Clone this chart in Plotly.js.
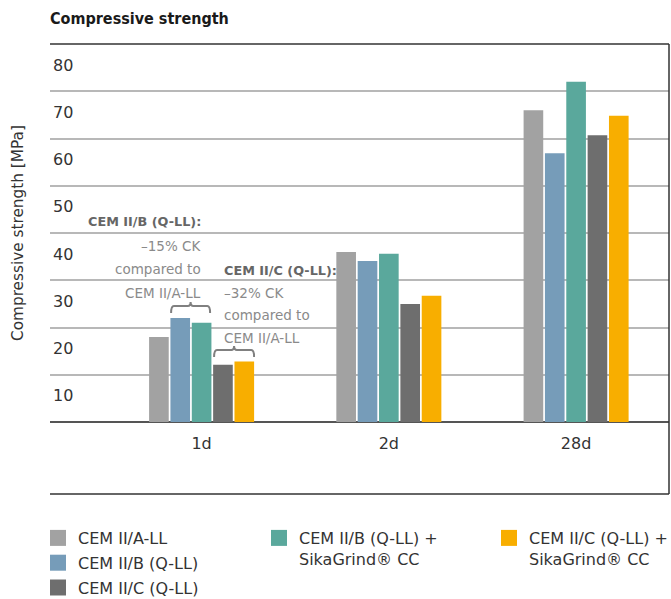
<!DOCTYPE html>
<html><head><meta charset="utf-8">
<script src="https://cdn.plot.ly/plotly-3.0.1.min.js"></script>
<style>body{margin:0;background:#fff}</style>
</head><body><div id="chart" style="width:671px;height:599px"></div>
<script>
// ---- data ----
const ages = ['1d', '2d', '28d'];
const seriesNames = ['CEM II/A-LL', 'CEM II/B (Q-LL)', 'CEM II/B (Q-LL) +<br>SikaGrind® CC', 'CEM II/C (Q-LL)', 'CEM II/C (Q-LL) +<br>SikaGrind® CC'];
const cemA = [18.0, 36.0, 66.0];
const cemB = [22.0, 34.1, 56.9];
const cemBSika = [21.0, 35.6, 72.0];
const cemC = [12.1, 25.0, 60.7];
const cemCSika = [12.8, 26.7, 64.8];
const yTicks = [10, 20, 30, 40, 50, 60, 70, 80];
const yTitle = 'Compressive strength [MPa]';
const noteB = ['CEM II/B (Q-LL):', '–15% CK', 'compared to', 'CEM II/A-LL'];
const noteC = ['CEM II/C (Q-LL):', '–32% CK', 'compared to', 'CEM II/A-LL'];

// ---- styling ----
const colors = ['#a2a2a2', '#769cb9', '#5aa89c', '#6e6e6e', '#f8ae00'];
const legendIds = ['legend', 'legend', 'legend2', 'legend', 'legend3'];
const values = [cemA, cemB, cemBSika, cemC, cemCSika];
const FONT = 'DejaVu Sans, sans-serif';
const W = 671, H = 599, L = 50, R = 669, T = 44, B = 422, FB = 494;
const px2x = p => (p - L) / (R - L);
const py2y = p => (B - p) / (B - T);
const yUnit = (B - T) / 80;           // px per MPa
const catPx = 187.25, cat0Px = 196.5; // for placing notes near the 1d group
const dx = p => (p - cat0Px) / catPx;
const dy = p => (B - p) / yUnit;

const traces = [];
values.forEach((v, i) => {
  traces.push({
    type: 'bar', x: ages, y: v, name: seriesNames[i],
    marker: {color: colors[i]}, legendgroup: 'g' + i, showlegend: false,
    hovertemplate: '%{x}: %{y} MPa<extra>' + seriesNames[i].replace('<br>', ' ') + '</extra>'
  });
});
// legend entries (square swatches) linked to the bar traces
values.forEach((v, i) => {
  traces.push({
    type: 'scatter', mode: 'markers', x: [null], y: [null], name: seriesNames[i],
    marker: {color: colors[i], symbol: 'square', size: 16},
    legendgroup: 'g' + i, legend: legendIds[i], hoverinfo: 'skip'
  });
});

function brace(x0, x1, yb, yt, yn) {
  const xm = (x0 + x1) / 2, r = (x1 - x0) * 0.07;
  return `M${x0},${yb} Q${x0},${yt} ${x0 + r},${yt} L${xm - r},${yt} Q${xm},${yt} ${xm},${yn} ` +
         `Q${xm},${yt} ${xm + r},${yt} L${x1 - r},${yt} Q${x1},${yt} ${x1},${yb}`;
}

const frame = {color: '#333', width: 1.5};
const shapes = [
  {type: 'line', xref: 'paper', yref: 'paper', x0: 0, x1: 1, y0: 1, y1: 1, line: frame},
  {type: 'line', xref: 'paper', yref: 'paper', x0: 1, x1: 1, y0: 1, y1: py2y(FB), line: frame},
  {type: 'line', xref: 'paper', yref: 'paper', x0: 0, x1: 1, y0: py2y(FB), y1: py2y(FB), line: frame},
  {type: 'path', xref: 'x', yref: 'y', path: brace(dx(166), dx(205), dy(313), dy(306), dy(302)), line: {color: '#808080', width: 2}},
  {type: 'path', xref: 'x', yref: 'y', path: brace(dx(209), dx(249), dy(357), dy(350), dy(346)), line: {color: '#808080', width: 2}}
];

const annotations = [];
const lineYB = [221, 246, 269, 293], lineYC = [270, 293, 315, 338];
noteB.forEach((t, k) => annotations.push({
  xref: 'x', yref: 'y', x: dx(198), y: dy(lineYB[k]), xanchor: 'right', yanchor: 'middle', showarrow: false,
  text: k === 0 ? '<b>' + t + '</b>' : t,
  font: k === 0 ? {family: FONT, size: 12.8, color: '#666'} : {family: FONT, size: 13.5, color: '#8a8a8a'}
}));
noteC.forEach((t, k) => annotations.push({
  xref: 'x', yref: 'y', x: dx(217), y: dy(lineYC[k]), xanchor: 'left', yanchor: 'middle', showarrow: false,
  text: k === 0 ? '<b>' + t + '</b>' : t,
  font: k === 0 ? {family: FONT, size: 12.8, color: '#666'} : {family: FONT, size: 13.5, color: '#8a8a8a'}
}));
// y axis title
annotations.push({xref: 'paper', yref: 'paper', x: px2x(18), y: 0.5, xanchor: 'center', yanchor: 'middle',
  textangle: -90, showarrow: false, text: yTitle, font: {family: FONT, size: 15.3, color: '#333'}});

const legFont = {family: FONT, size: 16, color: '#333'};
const legBase = {orientation: 'v', xref: 'container', yref: 'container', xanchor: 'left', yanchor: 'top', font: legFont,
  bgcolor: 'rgba(0,0,0,0)', valign: 'top', tracegroupgap: 1, traceorder: 'grouped', itemclick: 'toggle'};
const cy = p => 1 - p / H, cx = p => p / W;

const layout = {
  width: W, height: H,
  margin: {l: L, r: W - R, t: T, b: H - B, pad: 0, autoexpand: false},
  paper_bgcolor: '#fff', plot_bgcolor: '#fff',
  title: {text: '<b>Compressive strength</b>', xref: 'container', yref: 'container', x: 50 / W, xanchor: 'left',
          y: 1 - 18 / H, yanchor: 'middle', font: {family: 'DejaVu Sans Condensed, DejaVu Sans, sans-serif', size: 16, color: '#1a1a1a'}},
  barmode: 'group', bargap: 0.43, bargroupgap: 0.08,
  xaxis: {type: 'category', range: [(L - 201.6) / catPx, (R - 201.6) / catPx], showgrid: false, zeroline: false,
          showline: false, ticks: '', ticklabelstandoff: 10, tickfont: {family: FONT, size: 16, color: '#333'}, fixedrange: true},
  yaxis: {range: [0, 80], tickvals: yTicks, ticktext: yTicks.map(String), showgrid: true, gridcolor: '#b8b8b8', gridwidth: 1.5,
          zeroline: true, zerolinecolor: '#555', zerolinewidth: 2, showline: false, ticks: '',
          ticklabelposition: 'inside', ticklabeloverflow: 'allow', ticklabelshift: 21, tickfont: {family: FONT, size: 16, color: '#333'},
          fixedrange: true},
  legend: Object.assign({}, legBase, {x: cx(38), y: cy(521)}),
  legend2: Object.assign({}, legBase, {x: cx(259), y: cy(521)}),
  legend3: Object.assign({}, legBase, {x: cx(489), y: cy(521)}),
  shapes: shapes, annotations: annotations, showlegend: true
};

Plotly.newPlot('chart', traces, layout, {displayModeBar: false, responsive: false});
</script></body></html>
